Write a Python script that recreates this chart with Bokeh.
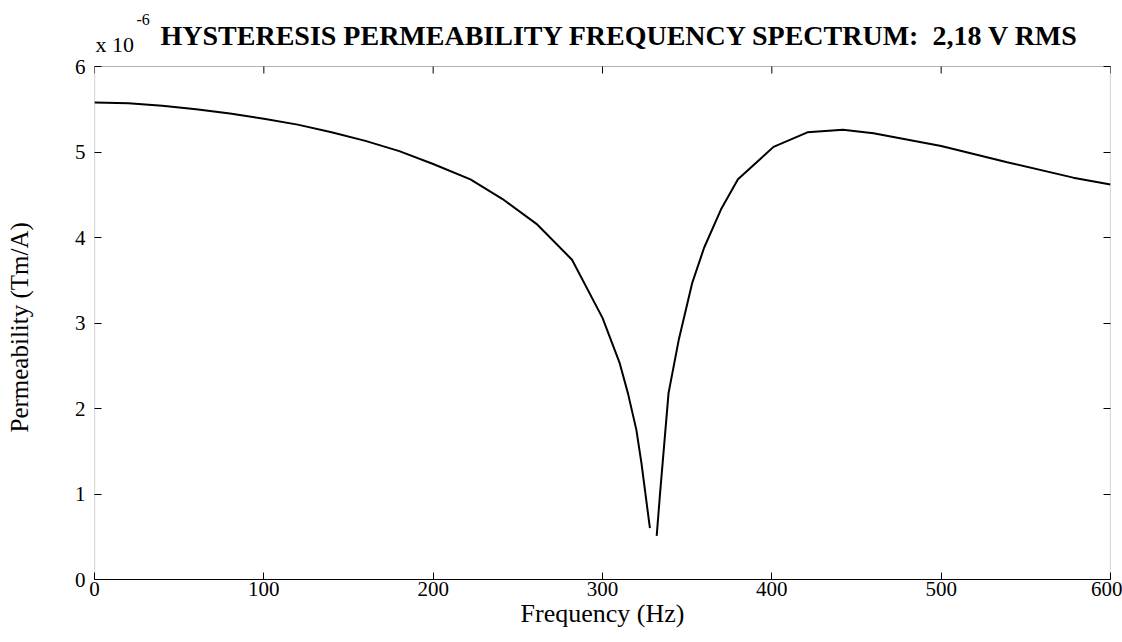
from bokeh.plotting import figure
from bokeh.models import (LinearAxis, Label, Range1d, FixedTicker, BoxAnnotation,
                          Title)
from bokeh.embed import file_html
from bokeh.resources import INLINE

# Permeability (x 1e-6 Tm/A) versus frequency (Hz)
low_freq = [0, 20, 40, 60, 80, 100, 120, 140, 160, 180, 200, 222, 241, 261, 282,
            300, 310, 315, 320, 323, 328]
low_mu = [5.58, 5.57, 5.54, 5.50, 5.45, 5.39, 5.32, 5.23, 5.13, 5.01, 4.86, 4.68,
          4.45, 4.16, 3.74, 3.06, 2.54, 2.18, 1.75, 1.36, 0.60]
high_freq = [332, 334, 339, 345, 353, 360, 370, 380, 401, 421, 442, 460, 500, 539,
             578, 600]
high_mu = [0.51, 1.01, 2.18, 2.80, 3.47, 3.88, 4.33, 4.68, 5.06, 5.23, 5.26, 5.22,
           5.07, 4.88, 4.70, 4.62]

x_ticks = [0, 100, 200, 300, 400, 500, 600]
y_ticks = [0, 1, 2, 3, 4, 5, 6]
title_text = "HYSTERESIS PERMEABILITY FREQUENCY SPECTRUM:\u00a0 2,18 V RMS"
x_label = "Frequency (Hz)"
y_label = "Permeability (Tm/A)"

SERIF = "Liberation Serif"

# layout: the frame runs from canvas y=4 to y=579; the axes box spans 0..6
FRAME_TOP_PX, FRAME_BOTTOM_PX, BOX_TOP_PX = 4, 579, 66
Y_MAX = 6.0
Y_END = Y_MAX * (FRAME_BOTTOM_PX - FRAME_TOP_PX) / (FRAME_BOTTOM_PX - BOX_TOP_PX)
TICK_LEN = 7 * Y_MAX / (FRAME_BOTTOM_PX - BOX_TOP_PX)

p = figure(width=1122, height=642, output_backend="svg", toolbar_location=None,
           title=None,
           x_range=Range1d(0, 600), y_range=Range1d(0, Y_END),
           min_border_left=94, min_border_right=12, min_border_top=FRAME_TOP_PX,
           min_border_bottom=642 - FRAME_BOTTOM_PX, background_fill_color="white",
           border_fill_color="white")
p.grid.visible = False
p.outline_line_color = None

# axes box
p.add_layout(BoxAnnotation(left=0, right=600, bottom=0, top=Y_MAX,
                           fill_color=None, line_color="black", line_width=1.2))

p.line(low_freq, low_mu, line_color="black", line_width=2)
p.line(high_freq, high_mu, line_color="black", line_width=2)

# inward ticks along the top edge of the box
p.segment(x0=x_ticks, x1=x_ticks, y0=[Y_MAX] * len(x_ticks),
          y1=[Y_MAX - TICK_LEN] * len(x_ticks), line_color="black", line_width=1)

bottom = p.below[0]
left = p.left[0]
bottom.ticker = FixedTicker(ticks=x_ticks)
bottom.axis_label = x_label
left.ticker = FixedTicker(ticks=y_ticks)

right = LinearAxis(ticker=FixedTicker(ticks=y_ticks), major_label_text_color=None,
                   major_label_standoff=0)
p.add_layout(right, "right")

for ax in [bottom, left, right]:
    ax.major_tick_in = 7
    ax.major_tick_out = 0
    ax.minor_tick_line_color = None
    ax.major_tick_line_color = "black"
    ax.major_label_text_font = SERIF
    ax.major_label_text_font_size = "21px"
    ax.axis_label_text_font = SERIF
    ax.axis_label_text_font_style = "normal"
    ax.axis_label_text_font_size = "26px"
    ax.axis_label_text_color = "black"

left.axis_line_color = None
right.axis_line_color = None
bottom.axis_line_color = "black"
bottom.major_label_text_color = "black"
left.major_label_text_color = "black"
bottom.major_label_standoff = 2
bottom.axis_label_standoff = 0
left.major_label_standoff = 9

# blank spacer label on the left axis pushes the side title outward
left.axis_label = "\u00a0"
left.axis_label_text_font_size = "20px"
left.axis_label_standoff = 14

# y-axis label as a side title so it can be centred on the axes box
p.add_layout(Title(text=y_label, align="left", offset=147, standoff=0,
                   vertical_align="bottom",
                   text_font=SERIF, text_font_style="normal",
                   text_font_size="25px", text_color="black"), "left")

# title and exponent marker (screen units: from frame left, up from frame bottom)
p.add_layout(Label(x=66, y=FRAME_BOTTOM_PX - 35, x_units="screen", y_units="screen",
                   text=title_text, text_font=SERIF, text_font_style="bold",
                   text_font_size="28px", text_align="left",
                   text_baseline="alphabetic", text_color="black"))
p.add_layout(Label(x=1, y=FRAME_BOTTOM_PX - 44, x_units="screen", y_units="screen",
                   text="x 10", text_font=SERIF, text_font_size="22px",
                   text_align="left", text_baseline="alphabetic",
                   text_color="black"))
p.add_layout(Label(x=42, y=FRAME_BOTTOM_PX - 19, x_units="screen", y_units="screen",
                   text="-6", text_font=SERIF, text_font_size="16px",
                   text_align="left", text_baseline="alphabetic",
                   text_color="black"))

open("out.html", "w").write(file_html(p, INLINE))
